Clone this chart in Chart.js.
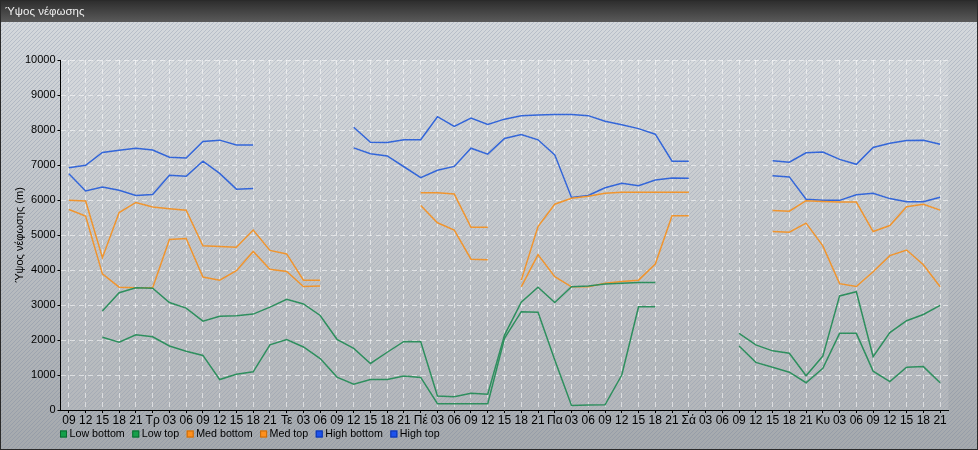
<!DOCTYPE html>
<html>
<head>
<meta charset="utf-8">
<script src="https://cdn.jsdelivr.net/npm/chart.js@4.4.0/dist/chart.umd.min.js"></script>
<style>
  html, body { margin: 0; padding: 0; background: #b4b8bc; }
</style>
</head>
<body>
<canvas id="cloud-ch" width="978" height="450"></canvas>
<script>
var labels = ["09", "12", "15", "18", "21",
  "Τρ", "03", "06", "09", "12", "15", "18", "21",
  "Τε", "03", "06", "09", "12", "15", "18", "21",
  "Πέ", "03", "06", "09", "12", "15", "18", "21",
  "Πα", "03", "06", "09", "12", "15", "18", "21",
  "Σά", "03", "06", "09", "12", "15", "18", "21",
  "Κυ", "03", "06", "09", "12", "15", "18", "21"];

// one row per day (first row starts at 09)
var lowBottom = [null, null, 2080, 1940, 2150,
  2090, 1830, 1680, 1560, 870, 1020, 1090, 1860,
  2010, 1800, 1470, 940, 740, 870, 870, 970,
  930, 180, 180, 180, 180, 2050, 2810, 2790,
  1430, 130, 140, 150, 1000, 2950, 2950, null,
  null, null, null, 1830, 1360, 1220, 1080, 780,
  1190, 2190, 2190, 1110, 810, 1220, 1240, 780];
var lowTop = [null, null, 2830, 3350, 3490,
  3480, 3070, 2910, 2540, 2680, 2690, 2740, 2940,
  3160, 3030, 2700, 2020, 1760, 1330, 1650, 1960,
  1950, 400, 380, 480, 450, 2140, 3080, 3510,
  3070, 3520, 3540, 3600, 3620, 3640, 3640, null,
  null, null, null, 2190, 1860, 1690, 1620, 980,
  1540, 3260, 3380, 1520, 2210, 2550, 2730, 2990];
var medBottom = [5730, 5540, 3890, 3510, 3490,
  3490, 4870, 4900, 3800, 3710, 3980, 4530, 4020,
  3960, 3530, 3540, null, null, null, null, null,
  5840, 5350, 5140, 4310, 4290, null, 3520, 4440,
  3810, 3520, 3520, 3620, 3670, 3710, 4170, 5550,
  5550, null, null, null, null, 5100, 5080, 5340,
  4690, 3610, 3530, 3950, 4410, 4570, 4150, 3520];
var medTop = [5990, 5970, 4350, 5640, 5930,
  5800, 5750, 5710, 4690, 4670, 4650, 5140, 4560,
  4460, 3710, 3710, null, null, null, null, null,
  6210, 6210, 6170, 5220, 5220, null, 3710, 5240,
  5880, 6050, 6110, 6190, 6220, 6220, 6220, 6220,
  6220, null, null, null, null, 5700, 5680, 5980,
  5960, 5940, 5940, 5100, 5270, 5810, 5880, 5710];
var highBottom = [6750, 6260, 6370, 6280, 6130,
  6160, 6710, 6680, 7110, 6760, 6310, 6330, null,
  null, null, null, null, 7490, 7320, 7260, 6950,
  6640, 6850, 6960, 7480, 7310, 7760, 7870, 7720,
  7290, 6070, 6130, 6350, 6480, 6410, 6570, 6630,
  6620, null, null, null, null, 6690, 6660, 6020,
  5990, 5990, 6150, 6190, 6040, 5950, 5950, 6080];
var highTop = [6920, 6990, 7360, 7420, 7480,
  7430, 7220, 7200, 7670, 7710, 7570, 7570, null,
  null, null, null, null, 8080, 7650, 7640, 7720,
  7720, 8380, 8100, 8340, 8160, 8310, 8410, 8430,
  8440, 8440, 8410, 8250, 8150, 8040, 7880, 7110,
  7110, null, null, null, null, 7120, 7080, 7350,
  7370, 7160, 7020, 7500, 7620, 7700, 7710, 7590];

var font = "'Liberation Sans', Arial, sans-serif";
var green = "#2e8f5e", orange = "#f0952f", blue = "#3366d9";
var legendBoxes = [
  { text: "Low bottom", fill: "#14a04a", edge: "#0b6b30" },
  { text: "Low top", fill: "#14a04a", edge: "#0b6b30" },
  { text: "Med bottom", fill: "#ff901c", edge: "#c86a08" },
  { text: "Med top", fill: "#ff901c", edge: "#c86a08" },
  { text: "High bottom", fill: "#1c52ee", edge: "#0d35a8" },
  { text: "High top", fill: "#1c52ee", edge: "#0d35a8" }
];

function line(label, data, color) {
  return {
    label: label, data: data, borderColor: color, backgroundColor: color,
    borderWidth: 1.5, pointRadius: 0, tension: 0, spanGaps: false, fill: false
  };
}

var backdrop = {
  id: "backdrop",
  beforeDraw: function (chart) {
    var c = chart.ctx, w = chart.width, h = chart.height, a = chart.chartArea;
    c.save();
    var g = c.createLinearGradient(0, 22, 0, h);
    g.addColorStop(0, "#d4d8dc");
    g.addColorStop(1, "#a5a9ad");
    c.fillStyle = g;
    c.fillRect(0, 0, w, h);
    // diagonal hatch
    c.strokeStyle = "rgba(105,120,150,0.26)";
    c.lineWidth = 1;
    c.beginPath();
    for (var x = -h; x < w; x += 4) {
      c.moveTo(x, h);
      c.lineTo(x + h, 0);
    }
    c.stroke();
    c.fillStyle = "rgba(255,255,255,0.12)";
    c.fillRect(a.left, a.top, a.right - a.left, a.bottom - a.top);
    // title bar
    var t = c.createLinearGradient(0, 0, 0, 22);
    t.addColorStop(0, "#2c2c2c");
    t.addColorStop(1, "#5a5a5a");
    c.fillStyle = t;
    c.fillRect(0, 0, w, 22);
    c.fillStyle = "#f0f0f0";
    c.font = "11.5px " + font;
    c.textBaseline = "middle";
    c.fillText("Ύψος νέφωσης", 5, 12);
    c.restore();
  },
  afterDraw: function (chart) {
    var c = chart.ctx;
    c.save();
    c.font = "10.7px " + font;
    c.textBaseline = "middle";
    var x = 60, y = 434;
    legendBoxes.forEach(function (it) {
      c.fillStyle = it.fill;
      c.fillRect(x, y - 3.5, 7, 7);
      c.strokeStyle = it.edge;
      c.lineWidth = 1;
      c.strokeRect(x + 0.5, y - 3, 6, 6);
      c.fillStyle = "#000";
      c.fillText(it.text, x + 9.5, y);
      x += 9.5 + c.measureText(it.text).width + 7.5;
    });
    c.strokeStyle = "#2a2a2a";
    c.strokeRect(0.5, 0.5, chart.width - 1, chart.height - 1);
    c.restore();
  }
};

var gridOpts = { color: "rgba(255,255,255,0.55)", tickColor: "#000", tickLength: 3, lineWidth: 1 };
var borderOpts = { color: "#000", width: 1, dash: [5, 4] };

var ctx = document.getElementById("cloud-ch");
var myChart = new Chart(ctx, {
  type: "line",
  data: {
    labels: labels,
    datasets: [
      line("Low bottom", lowBottom, green),
      line("Low top", lowTop, green),
      line("Med bottom", medBottom, orange),
      line("Med top", medTop, orange),
      line("High bottom", highBottom, blue),
      line("High top", highTop, blue)
    ]
  },
  options: {
    responsive: false,
    animation: false,
    layout: { padding: { top: 60, right: 29.5, bottom: 0, left: 0 } },
    plugins: { legend: { display: false }, tooltip: { enabled: false } },
    scales: {
      x: {
        type: "category",
        offset: true,
        grid: gridOpts,
        border: borderOpts,
        ticks: { color: "#000", font: { size: 12, family: font }, padding: 0, maxRotation: 0, autoSkip: false },
        afterFit: function (s) { s.height = 40; }
      },
      y: {
        min: 0,
        max: 10000,
        grid: gridOpts,
        border: borderOpts,
        ticks: {
          stepSize: 1000, color: "#000", font: { size: 11, family: font }, padding: 2,
          callback: function (v) { return String(v); }
        },
        title: { display: true, text: "Ύψος νέφωσης (m)", color: "#000", font: { size: 11, family: font }, padding: { top: 13, bottom: 0 } },
        afterFit: function (s) { s.width = 60.5; }
      }
    }
  },
  plugins: [backdrop]
});
</script>
</body>
</html>
